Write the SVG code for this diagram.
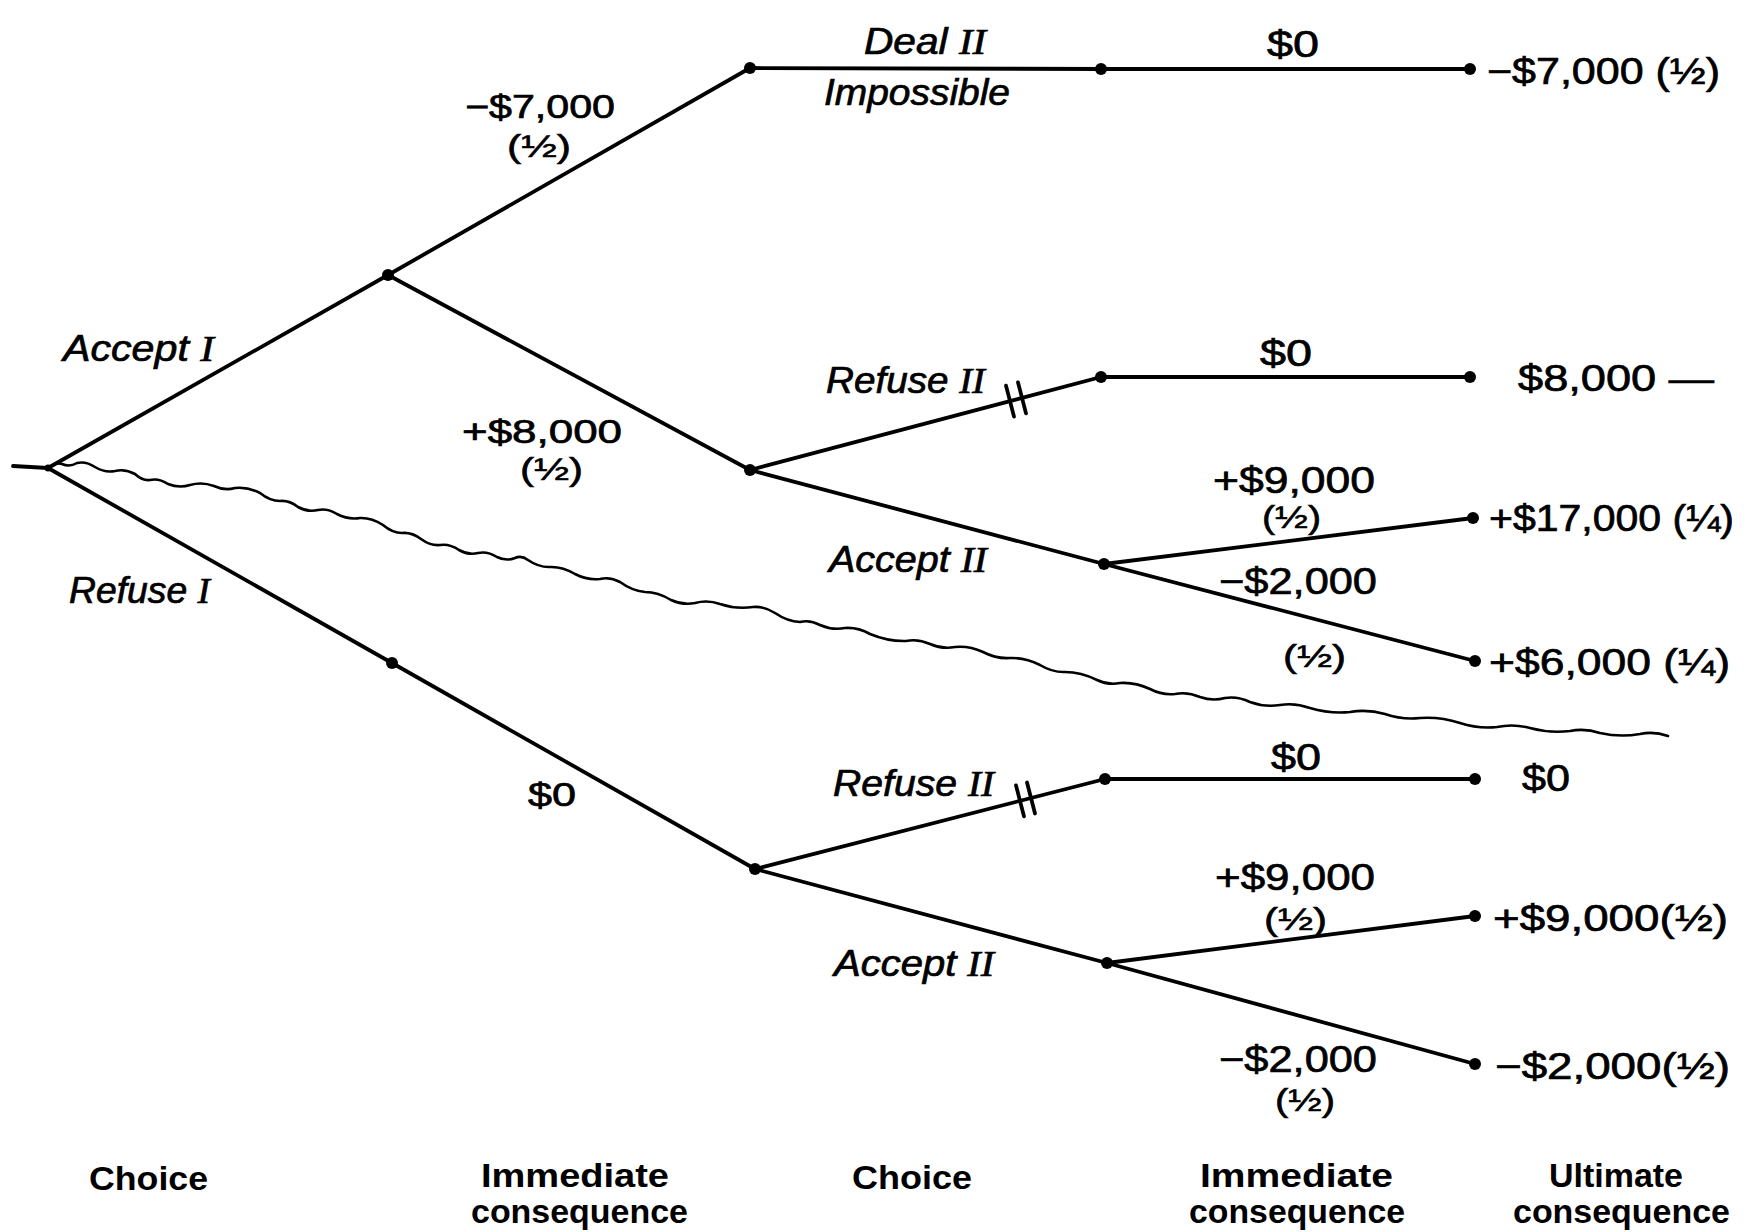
<svg xmlns="http://www.w3.org/2000/svg" width="1754" height="1232" viewBox="0 0 1754 1232">
<style>
.edge{stroke:#000;stroke-width:3.8;stroke-linecap:round;fill:none}
.wave{stroke:#000;stroke-width:2.6;stroke-linejoin:round;stroke-linecap:round;fill:none}
.dot{fill:#000}
text{font-family:"Liberation Sans",Arial,sans-serif;fill:#000}
.lab{font-style:italic;font-size:36px;stroke:#000;stroke-width:0.7}
.rn{font-family:"Liberation Serif","Times New Roman",serif;font-style:italic}
.num{font-size:37px;stroke:#000;stroke-width:0.7}
.sm{font-size:33px;stroke:#000;stroke-width:0.7}
.fr{font-size:32px;stroke:#000;stroke-width:0.6}
.head{font-size:34px;font-weight:bold}
</style>
<rect width="1754" height="1232" fill="#fff"/>
<g id="connectors">
<line class="edge" x1="13" y1="466" x2="48" y2="468"/>
<line class="edge" x1="48" y1="468" x2="388" y2="275"/>
<line class="edge" x1="388" y1="275" x2="750" y2="68"/>
<line class="edge" x1="750" y1="68" x2="1101" y2="69"/>
<line class="edge" x1="1101" y1="69" x2="1470" y2="69"/>
<line class="edge" x1="388" y1="275" x2="750" y2="470"/>
<line class="edge" x1="750" y1="470" x2="1101" y2="377"/>
<line class="edge" x1="1101" y1="377" x2="1470" y2="377"/>
<line class="edge" x1="750" y1="470" x2="1104" y2="564"/>
<line class="edge" x1="1104" y1="564" x2="1473" y2="518"/>
<line class="edge" x1="1104" y1="564" x2="1475" y2="661"/>
<line class="edge" x1="48" y1="468" x2="392" y2="663"/>
<line class="edge" x1="392" y1="663" x2="755" y2="869"/>
<line class="edge" x1="755" y1="869" x2="1105" y2="779"/>
<line class="edge" x1="1105" y1="779" x2="1475" y2="779"/>
<line class="edge" x1="755" y1="869" x2="1107" y2="963"/>
<line class="edge" x1="1107" y1="963" x2="1475" y2="916"/>
<line class="edge" x1="1107" y1="963" x2="1475" y2="1064"/>
<g id="hash-upper">
<line class="edge" x1="1006" y1="385.6" x2="1014" y2="416.6"/>
<line class="edge" x1="1018" y1="382.4" x2="1026" y2="413.4"/>
</g>
<g id="hash-lower">
<line class="edge" x1="1016" y1="785.4" x2="1024" y2="816.4"/>
<line class="edge" x1="1027" y1="782.5" x2="1035" y2="813.5"/>
</g>
</g>
<g id="cut-line">
<path class="wave" d="M48,468 Q55,462 62,464 Q69.5,467.5 77,463 Q86,461 95,467 Q105,473 115,471 Q125,468.5 135,474 Q142.5,481 150,480 Q159,478 168,484 Q179,488.5 190,485 Q202,481.5 214,486 Q224.5,491 235,488 Q247.5,486.5 260,493 Q270,501 280,501 Q289,500 298,507 Q308,512.5 318,510 Q327.5,508 337,514 Q348.5,520 360,518 Q371.5,517.5 383,525 Q392.5,533 402,533 Q411.5,532 421,539 Q430.5,546 440,545 Q449.5,543.5 459,550 Q468.5,555.5 478,553 Q487.5,551 497,557 Q506,561.5 515,558 Q521.5,555 528,560 Q539,567.5 550,567 Q562.5,566.5 575,574 Q587.5,580.5 600,579 Q610,576.5 620,582 Q632.5,591 645,592 Q658,592 671,600 Q683,605.5 695,603 Q707.5,599.5 720,604 Q736.5,609.5 753,607 Q764,606 775,613 Q787.5,621.5 800,622 Q810,619.5 820,625 Q832.5,630.5 845,628 Q857.5,627 870,634 Q888,641.5 906,641 Q918,638.5 930,644 Q942.5,649.5 955,647 Q969,645.5 983,652 Q996.5,659 1010,658 Q1025,657.5 1040,665 Q1052.5,672.5 1065,672 Q1081,672 1097,680 Q1108.5,685.5 1120,683 Q1135,682 1150,689 Q1162.5,695.5 1175,694 Q1187.5,691.5 1200,697 Q1212.5,701.5 1225,698 Q1237.5,696 1250,702 Q1265,707.5 1280,705 Q1295,702.5 1310,708 Q1330,714 1350,712 Q1367.5,709 1385,714 Q1402.5,720 1420,718 Q1440,716.5 1460,723 Q1478.5,729 1497,727 Q1513.5,723.5 1530,728 Q1550,733.5 1570,731 Q1585,728 1600,733 Q1620,737.5 1640,734 Q1654,731 1668,736"/>
</g>
<g id="node-root"><circle class="dot" cx="48" cy="468" r="3.5"/></g>
<g id="node-a"><circle class="dot" cx="388" cy="275" r="6"/></g>
<g id="node-b"><circle class="dot" cx="750" cy="68" r="6"/></g>
<g id="node-c"><circle class="dot" cx="1101" cy="69" r="6"/></g>
<g id="node-d"><circle class="dot" cx="1470" cy="69" r="6"/></g>
<g id="node-e"><circle class="dot" cx="750" cy="470" r="6"/></g>
<g id="node-f"><circle class="dot" cx="1101" cy="377" r="6"/></g>
<g id="node-g"><circle class="dot" cx="1470" cy="377" r="6"/></g>
<g id="node-h"><circle class="dot" cx="1104" cy="564" r="6"/></g>
<g id="node-i"><circle class="dot" cx="1473" cy="518" r="6"/></g>
<g id="node-j"><circle class="dot" cx="1475" cy="661" r="6"/></g>
<g id="node-k"><circle class="dot" cx="392" cy="663" r="6"/></g>
<g id="node-l"><circle class="dot" cx="755" cy="869" r="6"/></g>
<g id="node-m"><circle class="dot" cx="1105" cy="779" r="6"/></g>
<g id="node-n"><circle class="dot" cx="1475" cy="779" r="6"/></g>
<g id="node-o"><circle class="dot" cx="1107" cy="963" r="6"/></g>
<g id="node-p"><circle class="dot" cx="1475" cy="916" r="6"/></g>
<g id="node-q"><circle class="dot" cx="1475" cy="1064" r="6"/></g>
<g id="choice-labels">
<text class="lab" x="63" y="361" textLength="151" lengthAdjust="spacingAndGlyphs">Accept <tspan class="rn">I</tspan></text>
<text class="lab" x="69" y="603" textLength="141" lengthAdjust="spacingAndGlyphs">Refuse <tspan class="rn">I</tspan></text>
<text class="lab" x="864" y="54" textLength="122" lengthAdjust="spacingAndGlyphs">Deal <tspan class="rn">II</tspan></text>
<text class="lab" x="824" y="105" textLength="186" lengthAdjust="spacingAndGlyphs">Impossible</text>
<text class="lab" x="826" y="393" textLength="159" lengthAdjust="spacingAndGlyphs">Refuse <tspan class="rn">II</tspan></text>
<text class="lab" x="829" y="572" textLength="158" lengthAdjust="spacingAndGlyphs">Accept <tspan class="rn">II</tspan></text>
<text class="lab" x="833" y="796" textLength="161" lengthAdjust="spacingAndGlyphs">Refuse <tspan class="rn">II</tspan></text>
<text class="lab" x="834" y="976" textLength="160" lengthAdjust="spacingAndGlyphs">Accept <tspan class="rn">II</tspan></text>
</g>
<g id="immediate-labels-1">
<text class="sm" x="465" y="118" textLength="150" lengthAdjust="spacingAndGlyphs">−$7,000</text>
<text class="fr" x="507" y="157" textLength="64" lengthAdjust="spacingAndGlyphs">(½)</text>
<text class="sm" x="462" y="443" textLength="160" lengthAdjust="spacingAndGlyphs">+$8,000</text>
<text class="fr" x="520" y="480" textLength="63" lengthAdjust="spacingAndGlyphs">(½)</text>
<text class="sm" x="528" y="806" textLength="48" lengthAdjust="spacingAndGlyphs">$0</text>
</g>
<g id="immediate-labels-2">
<text class="num" x="1267" y="57" textLength="52" lengthAdjust="spacingAndGlyphs">$0</text>
<text class="num" x="1260" y="366" textLength="52" lengthAdjust="spacingAndGlyphs">$0</text>
<text class="num" x="1213" y="493" textLength="162" lengthAdjust="spacingAndGlyphs">+$9,000</text>
<text class="fr" x="1262" y="528" textLength="59" lengthAdjust="spacingAndGlyphs">(½)</text>
<text class="num" x="1219" y="594" textLength="158" lengthAdjust="spacingAndGlyphs">−$2,000</text>
<text class="fr" x="1283" y="667" textLength="63" lengthAdjust="spacingAndGlyphs">(½)</text>
<text class="num" x="1271" y="770" textLength="50" lengthAdjust="spacingAndGlyphs">$0</text>
<text class="num" x="1215" y="890" textLength="160" lengthAdjust="spacingAndGlyphs">+$9,000</text>
<text class="fr" x="1264" y="930" textLength="63" lengthAdjust="spacingAndGlyphs">(½)</text>
<text class="num" x="1219" y="1072" textLength="158" lengthAdjust="spacingAndGlyphs">−$2,000</text>
<text class="fr" x="1275" y="1111" textLength="60" lengthAdjust="spacingAndGlyphs">(½)</text>
</g>
<g id="ultimate-labels">
<text class="num" x="1487" y="84" textLength="233" lengthAdjust="spacingAndGlyphs">−$7,000 (½)</text>
<text class="num" x="1518" y="391" textLength="196" lengthAdjust="spacingAndGlyphs">$8,000 —</text>
<text class="num" x="1489" y="531" textLength="245" lengthAdjust="spacingAndGlyphs">+$17,000 (¼)</text>
<text class="num" x="1489" y="675" textLength="241" lengthAdjust="spacingAndGlyphs">+$6,000 (¼)</text>
<text class="num" x="1522" y="791" textLength="48" lengthAdjust="spacingAndGlyphs">$0</text>
<text class="num" x="1493" y="931" textLength="235" lengthAdjust="spacingAndGlyphs">+$9,000(½)</text>
<text class="num" x="1495" y="1079" textLength="235" lengthAdjust="spacingAndGlyphs">−$2,000(½)</text>
</g>
<g id="column-headings">
<text class="head" x="89" y="1190" textLength="119" lengthAdjust="spacingAndGlyphs">Choice</text>
<text class="head" x="481" y="1187" textLength="188" lengthAdjust="spacingAndGlyphs">Immediate</text>
<text class="head" x="471" y="1223" textLength="217" lengthAdjust="spacingAndGlyphs">consequence</text>
<text class="head" x="852" y="1189" textLength="120" lengthAdjust="spacingAndGlyphs">Choice</text>
<text class="head" x="1200" y="1187" textLength="193" lengthAdjust="spacingAndGlyphs">Immediate</text>
<text class="head" x="1189" y="1223" textLength="216" lengthAdjust="spacingAndGlyphs">consequence</text>
<text class="head" x="1549" y="1187" textLength="134" lengthAdjust="spacingAndGlyphs">Ultimate</text>
<text class="head" x="1513" y="1223" textLength="217" lengthAdjust="spacingAndGlyphs">consequence</text>
</g>
</svg>
